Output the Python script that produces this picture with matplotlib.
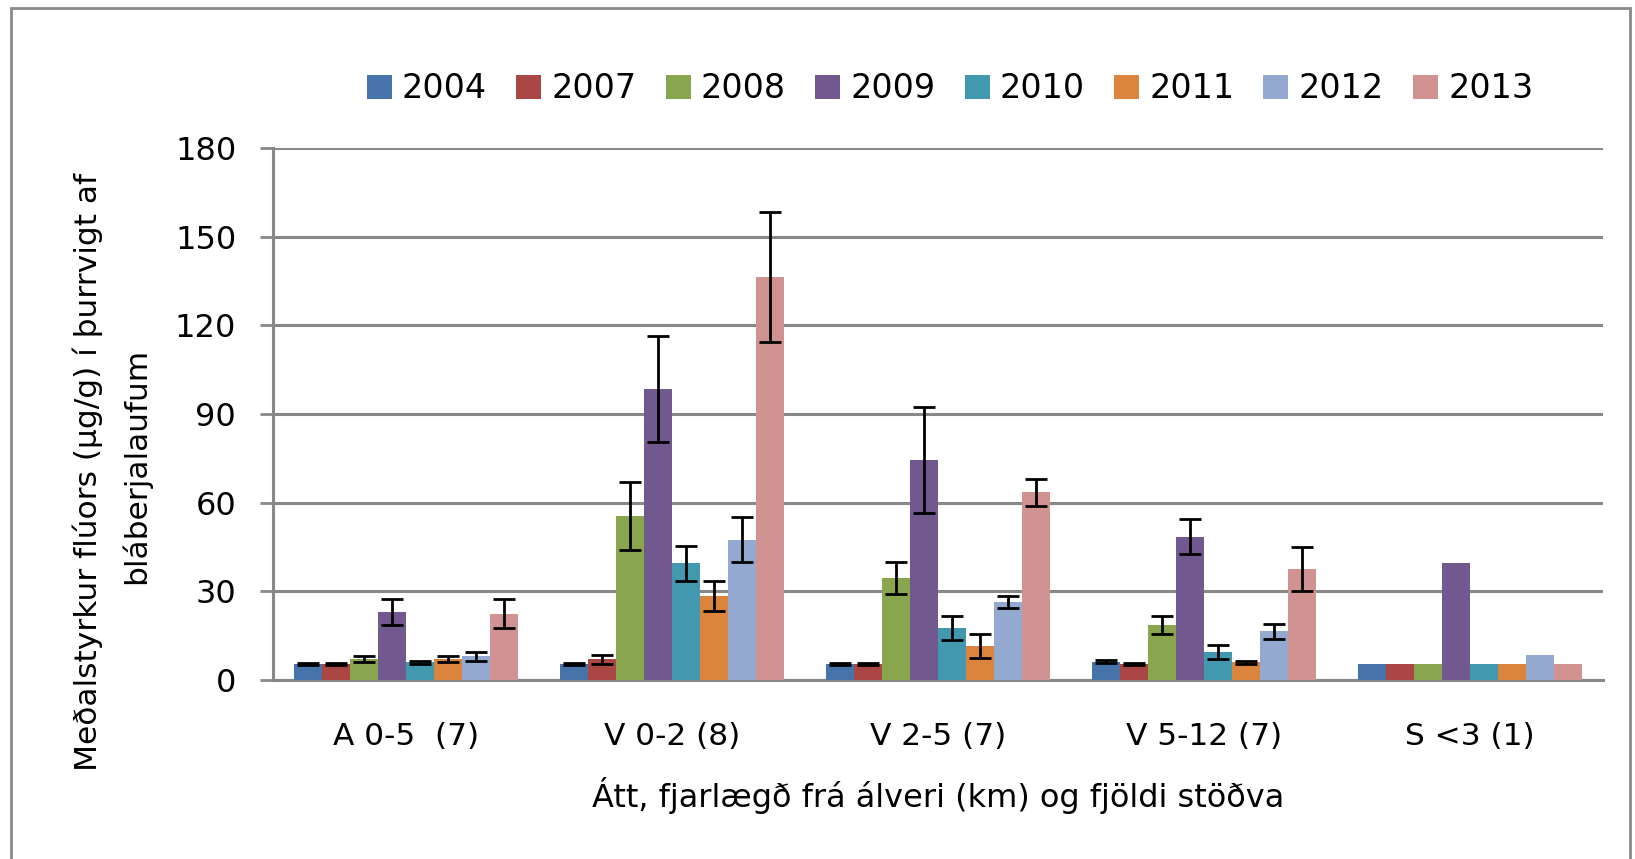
import numpy as np
import matplotlib
matplotlib.use("Agg")
import matplotlib.pyplot as plt
from matplotlib.patches import Patch, Rectangle

categories = ["A 0-5  (7)", "V 0-2 (8)", "V 2-5 (7)", "V 5-12 (7)", "S <3 (1)"]
years = ["2004", "2007", "2008", "2009", "2010", "2011", "2012", "2013"]

v2004 = [5.3, 5.3, 5.3, 6.2, 5.3]
v2007 = [5.3, 7.0, 5.3, 5.3, 5.3]
v2008 = [7.0, 55.5, 34.5, 18.5, 5.3]
v2009 = [23.0, 98.5, 74.5, 48.5, 39.5]
v2010 = [6.0, 39.5, 17.5, 9.5, 5.3]
v2011 = [7.0, 28.5, 11.5, 6.0, 5.3]
v2012 = [8.0, 47.5, 26.5, 16.5, 8.5]
v2013 = [22.5, 136.5, 63.5, 37.5, 5.3]

e2004 = [0.3, 0.3, 0.3, 0.5, None]
e2007 = [0.3, 1.5, 0.3, 0.3, None]
e2008 = [1.0, 11.5, 5.5, 3.0, None]
e2009 = [4.5, 18.0, 18.0, 6.0, None]
e2010 = [0.5, 6.0, 4.0, 2.5, None]
e2011 = [1.0, 5.0, 4.0, 0.5, None]
e2012 = [1.5, 7.5, 2.0, 2.5, None]
e2013 = [5.0, 22.0, 4.5, 7.5, None]

values = [v2004, v2007, v2008, v2009, v2010, v2011, v2012, v2013]
errors = [e2004, e2007, e2008, e2009, e2010, e2011, e2012, e2013]
colors = ["#4674AA", "#AA4643", "#89A54E", "#71588F", "#4198AF", "#DB843D", "#93A9CF", "#D19392"]

yticks = [0, 30, 60, 90, 120, 150, 180]

plt.rcParams['font.family'] = ['DejaVu Sans']
fig = plt.figure(figsize=(16.35, 8.59), dpi=100)
ax = fig.add_axes([273/1635, 1-680/859, (1603-273)/1635, (680-148)/859])

n = len(years)
w = 1.0 / (n + 1.5)
x = np.arange(len(categories))
grid_c = "#888888"

for i, (vals, errs, c) in enumerate(zip(values, errors, colors)):
    xi = x - n * w / 2 + w * (i + 0.5)
    ax.bar(xi, vals, width=w, color=c, zorder=3, linewidth=0)
    idx = [k for k, e in enumerate(errs) if e is not None]
    ax.errorbar(xi[idx], [vals[k] for k in idx], yerr=[errs[k] for k in idx],
                fmt='none', ecolor='black', elinewidth=2.0, capsize=8, capthick=2.0, zorder=4)

ax.set_xlim(-0.5, len(categories) - 0.5)
ax.set_ylim(0, 180)
ax.set_yticks(yticks)
ax.set_yticklabels([str(t) for t in yticks], fontsize=23)
ax.set_xticks(x)
ax.set_xticklabels(categories, fontsize=22.5)
ax.tick_params(axis='x', length=0, pad=30)
ax.tick_params(axis='y', length=9.5, width=2, color=grid_c, pad=17, direction='out')
ax.yaxis.grid(True, color=grid_c, linewidth=2.2, zorder=0)
ax.set_axisbelow(True)
for s in ['top', 'right']:
    ax.spines[s].set_visible(False)
for s in ['left', 'bottom']:
    ax.spines[s].set_color(grid_c)
    ax.spines[s].set_linewidth(2.2)

fig.text(938/1635, 1-795/859, "Átt, fjarlægð frá álveri (km) og fjöldi stöðva",
         ha='center', va='center', fontsize=23)
fig.text(88/1635, 1-472/859, "Meðalstyrkur flúors (µg/g) í þurrvigt af",
         ha='center', va='center', rotation=90, fontsize=22.5)
fig.text(136/1635, 1-466/859, "bláberjalaufum",
         ha='center', va='center', rotation=90, fontsize=22.5)

handles = [Patch(facecolor=c, edgecolor='none') for c in colors]
fig.legend(handles, years, loc='center', bbox_to_anchor=(950/1635, 1-89/859), ncol=8,
           frameon=False, fontsize=24, handlelength=0.75, handleheight=0.75,
           handletextpad=0.3, columnspacing=0.88)

fig.patches.append(Rectangle((11/1635, -0.05), (1630-11)/1635, 1.05 - 8/859,
                             transform=fig.transFigure, fill=False,
                             edgecolor="#8a8a8a", linewidth=2))

fig.savefig("out.png", dpi=100)
